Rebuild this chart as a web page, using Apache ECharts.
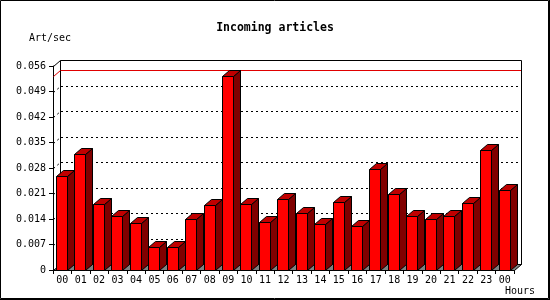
<!DOCTYPE html>
<html>
<head>
<meta charset="utf-8">
<script src="https://cdn.jsdelivr.net/npm/echarts@6/dist/echarts.min.js"></script>
<style>html,body{margin:0;padding:0;background:#fff}#c{width:550px;height:300px}</style>
</head>
<body>
<div id="c"></div>
<script>
const hours = ['00','01','02','03','04','05','06','07','08','09','10','11','12','13','14','15','16','17','18','19','20','21','22','23','00'];
const articlesPerSec = [0.0258,0.0318,0.0181,0.0148,0.0128,0.0063,0.0063,0.0140,0.0178,0.0532,0.0181,0.0132,0.0194,0.0156,0.0125,0.0187,0.0121,0.0277,0.0209,0.0148,0.0140,0.0148,0.0184,0.0329,0.0220];
const yTicks = [0,0.007,0.014,0.021,0.028,0.035,0.042,0.049,0.056];
const titleText = 'Incoming articles';
const yName = 'Art/sec';
const xName = 'Hours';

const DX = 7, DY = 6;
const FONT = 'DejaVu Sans Mono';
const maxVal = Math.max.apply(null, articlesPerSec);

const chart = echarts.init(document.getElementById('c'), null, {renderer: 'canvas'});

function px(v){ return Math.round(v) + 0.5; }

chart.setOption({
  animation: false,
  backgroundColor: '#fff',
  title: {
    text: titleText, left: 'center', top: 17,
    textStyle: {fontFamily: FONT, fontSize: 11.5, fontWeight: 'bold', color: '#000'}
  },
  grid: {left: 53, right: 36, top: 66, bottom: 30, containLabel: false},
  xAxis: {
    type: 'category', data: hours, boundaryGap: true,
    axisLine: {show: true, lineStyle: {color: '#000', width: 1}},
    axisTick: {show: true, length: 4, alignWithLabel: false, interval: 0, lineStyle: {color: '#000'}},
    axisLabel: {interval: 0, margin: 5, fontFamily: FONT, fontSize: 10, color: '#000'},
    splitLine: {show: false}
  },
  yAxis: {
    type: 'value', min: 0, max: 0.056, interval: 0.007,
    axisLine: {show: true, lineStyle: {color: '#000', width: 1}},
    axisTick: {show: true, length: 4, lineStyle: {color: '#000'}},
    axisLabel: {margin: 7, fontFamily: FONT, fontSize: 10, color: '#000',
      formatter: v => v === 0 ? '0' : v.toFixed(3)},
    splitLine: {show: false}
  },
  graphic: [
    {type: 'text', left: 29, top: 33, style: {text: yName, font: '10px "DejaVu Sans Mono"', fill: '#000'}},
    {type: 'text', left: 505, top: 286, style: {text: xName, font: '10px "DejaVu Sans Mono"', fill: '#000'}},
    {type: 'rect', shape: {x: 0.5, y: 0.5, width: 548, height: 298}, style: {fill: 'none', stroke: '#000', lineWidth: 1}, z: 100},
    {type: 'line', shape: {x1: 549.5, y1: 0, x2: 549.5, y2: 300}, style: {stroke: '#000', lineWidth: 1}, z: 100},
    {type: 'line', shape: {x1: 0, y1: 299.5, x2: 550, y2: 299.5}, style: {stroke: '#000', lineWidth: 1}, z: 100}
  ],
  series: [
    {
      type: 'custom', z: 1, clip: false, silent: true,
      data: [[0, 0]],
      renderItem: function (params, api) {
        const first = api.coord([0, 0]);
        const last = api.coord([hours.length - 1, 0]);
        const band = api.size([1, 0])[0];
        const x0 = Math.round(first[0] - band / 2);
        const x1 = Math.round(last[0] + band / 2);
        const y0 = Math.round(first[1]);
        const yTop = Math.round(api.coord([0, yTicks[yTicks.length - 1]])[1]);
        const ch = [];
        // back wall
        ch.push({type: 'rect', shape: {x: x0 + DX + 0.5, y: yTop - DY + 0.5, width: x1 - x0, height: y0 - yTop},
          style: {fill: '#fff', stroke: '#000', lineWidth: 1}});
        // gridlines (back wall + left wall)
        for (let k = 1; k < yTicks.length - 1; k++) {
          const y = Math.round(api.coord([0, yTicks[k]])[1]);
          ch.push({type: 'line', shape: {x1: x0 + DX + 1, y1: y - DY + 0.5, x2: x1 + DX, y2: y - DY + 0.5},
            style: {stroke: '#000', lineWidth: 1, lineDash: [2, 3]}});
          ch.push({type: 'line', shape: {x1: x0 + 0.5, y1: y + 0.5, x2: x0 + DX + 0.5, y2: y - DY + 0.5},
            style: {stroke: '#000', lineWidth: 1, lineDash: [2, 3]}});
        }
        // left wall top edge
        ch.push({type: 'line', shape: {x1: x0 + 0.5, y1: yTop + 0.5, x2: x0 + DX + 0.5, y2: yTop - DY + 0.5},
          style: {stroke: '#000', lineWidth: 1}});
        // max line
        const ym = Math.round(api.coord([0, maxVal])[1]);
        ch.push({type: 'line', shape: {x1: x0 + DX + 1, y1: ym - DY + 0.5, x2: x1 + DX, y2: ym - DY + 0.5},
          style: {stroke: '#e00000', lineWidth: 1}});
        ch.push({type: 'line', shape: {x1: x0 + 0.5, y1: ym + 0.5, x2: x0 + DX + 0.5, y2: ym - DY + 0.5},
          style: {stroke: '#e00000', lineWidth: 1}});
        // floor
        ch.push({type: 'polygon', shape: {points: [[x0 + 0.5, y0 + 0.5], [x1 + 0.5, y0 + 0.5], [x1 + DX + 0.5, y0 - DY + 0.5], [x0 + DX + 0.5, y0 - DY + 0.5]]},
          style: {fill: '#808080', stroke: '#000', lineWidth: 1}});
        return {type: 'group', children: ch};
      }
    },
    {
      type: 'custom', z: 3, clip: false,
      data: articlesPerSec.map((v, i) => [i, v]),
      encode: {x: 0, y: 1},
      renderItem: function (params, api) {
        const i = api.value(0), v = api.value(1);
        const topP = api.coord([i, v]);
        const baseP = api.coord([i, 0]);
        const band = api.size([1, 0])[0];
        const L = px(topP[0] - band / 2 + 3);
        const R = L + 11;
        const T = px(topP[1]);
        const B = px(baseP[1]);
        const st = {stroke: '#000', lineWidth: 1};
        return {type: 'group', children: [
          {type: 'polygon', shape: {points: [[R, T], [R + DX, T - DY], [R + DX, B - DY], [R, B]]},
            style: Object.assign({fill: '#800000'}, st)},
          {type: 'polygon', shape: {points: [[L, T], [R, T], [R + DX, T - DY], [L + DX, T - DY]]},
            style: Object.assign({fill: '#c00000'}, st)},
          {type: 'rect', shape: {x: L, y: T, width: R - L, height: B - T},
            style: Object.assign({fill: '#ff0000'}, st)}
        ]};
      }
    }
  ]
});
</script>
</body>
</html>
